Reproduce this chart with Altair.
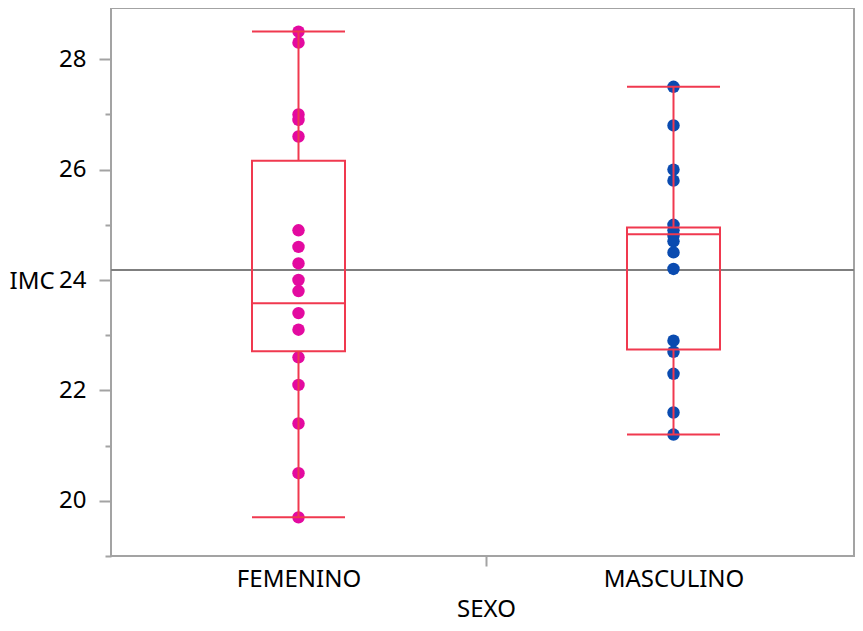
import altair as alt
import pandas as pd

# ---- data ----
sexo = ["FEMENINO", "MASCULINO"]
imc_femenino = [28.5, 28.3, 27.0, 26.9, 26.6, 24.9, 24.6, 24.3, 24.0, 23.8,
                23.4, 23.1, 22.6, 22.1, 21.4, 20.5, 19.7]
imc_masculino = [27.5, 26.8, 26.0, 25.8, 25.0, 24.9, 24.8, 24.7, 24.5, 24.2,
                 22.9, 22.7, 22.3, 21.6, 21.2]
q1 = [22.71, 22.74]
mediana = [23.58, 24.83]
q3 = [26.16, 24.95]
bigote_inf = [19.7, 21.2]
bigote_sup = [28.5, 27.5]
media_global = [24.18]
ticks_mayores = [20, 22, 24, 26, 28]
ticks_menores = [19, 21, 23, 25, 27, 29]

# ---- styling ----
ROJO = "#F0394F"
MAGENTA = "#E30AA0"
AZUL = "#0A4BB0"
GRIS = "#A3A3A3"
FONT = "Noto Sans"

puntos = pd.DataFrame({
    "sexo": [sexo[0]] * len(imc_femenino) + [sexo[1]] * len(imc_masculino),
    "imc": imc_femenino + imc_masculino,
})
cajas = pd.DataFrame({"sexo": sexo, "q1": q1, "mediana": mediana, "q3": q3,
                      "lo": bigote_inf, "hi": bigote_sup})
media = pd.DataFrame({"media": media_global})

y_scale = alt.Scale(domain=[19, 29], nice=False, zero=False, range=[548, -4])

x_enc = alt.X(
    "sexo:N",
    scale=alt.Scale(type="band", domain=sexo, paddingInner=0, paddingOuter=0, range=[0, 750]),
    axis=alt.Axis(
        title="SEXO", labelAngle=0, tickBand="extent", tickExtra=False,
        tickSize=10, tickWidth=2, tickColor=GRIS,
        tickOpacity={"condition": {"test": "datum.value === 'FEMENINO'", "value": 1}, "value": 0},
        domain=False, labelFontSize=24, labelColor="black",
        labelPadding=1, titleFontSize=24, titleFontWeight="normal",
        titleColor="black", titlePadding=6, grid=False, labelFont=FONT, titleFont=FONT,
    ),
)

eje_mayor = alt.Axis(
    orient="left",
    values=ticks_mayores, tickSize=12, tickWidth=2, tickColor=GRIS, domain=False,
    grid=False, labelFontSize=24, labelColor="black", labelPadding=13, labelFont=FONT,
    title="IMC", titleAngle=0, titleX=-102, titleY=273, titleAlign="left",
    titleBaseline="middle", titleFontSize=24, titleFontWeight="normal",
    titleColor="black", titleFont=FONT,
)
eje_menor = alt.Axis(
    orient="left",
    values=ticks_menores, tickSize=6, tickWidth=2, tickColor=GRIS, domain=False,
    grid=False, labels=False, title=None,
)

capa_media = alt.Chart(media).mark_rule(color="#7F7F7F", strokeWidth=2).encode(
    y=alt.Y("media:Q", scale=y_scale, axis=eje_menor)
)

capa_puntos = alt.Chart(puntos).mark_circle(size=155, opacity=1).encode(
    x=x_enc,
    y=alt.Y("imc:Q", scale=y_scale, axis=None),
    color=alt.Color("sexo:N", scale=alt.Scale(domain=sexo, range=[MAGENTA, AZUL]), legend=None),
)

capa_caja = alt.Chart(cajas).mark_bar(
    size=93, fillOpacity=0, stroke=ROJO, strokeWidth=2
).encode(
    x=x_enc,
    y=alt.Y("q1:Q", scale=y_scale, axis=eje_mayor),
    y2="q3:Q",
)

capa_bigote_sup = alt.Chart(cajas).mark_rule(color=ROJO, strokeWidth=2).encode(
    x=x_enc, y=alt.Y("q3:Q", scale=y_scale, axis=None), y2="hi:Q"
)
capa_bigote_inf = alt.Chart(cajas).mark_rule(color=ROJO, strokeWidth=2).encode(
    x=x_enc, y=alt.Y("lo:Q", scale=y_scale, axis=None), y2="q1:Q"
)
capa_tope_sup = alt.Chart(cajas).mark_tick(size=93, thickness=2, color=ROJO, opacity=1).encode(
    x=x_enc, y=alt.Y("hi:Q", scale=y_scale, axis=None)
)
capa_tope_inf = alt.Chart(cajas).mark_tick(size=93, thickness=2, color=ROJO, opacity=1).encode(
    x=x_enc, y=alt.Y("lo:Q", scale=y_scale, axis=None)
)
capa_mediana = alt.Chart(cajas).mark_tick(size=93, thickness=2, color=ROJO, opacity=1).encode(
    x=x_enc, y=alt.Y("mediana:Q", scale=y_scale, axis=None)
)

chart = alt.layer(
    capa_media, capa_puntos, capa_caja, capa_bigote_sup, capa_bigote_inf,
    capa_tope_sup, capa_tope_inf, capa_mediana,
).resolve_axis(y="independent").properties(
    width=743, height=548,
    padding={"left": 103, "top": 0, "right": 1, "bottom": 67},
    autosize=alt.AutoSizeParams(type="none"),
).configure(font=FONT).configure_view(stroke=GRIS, strokeWidth=2)

chart.save("out.html", embed_options={"renderer": "svg", "actions": False})
